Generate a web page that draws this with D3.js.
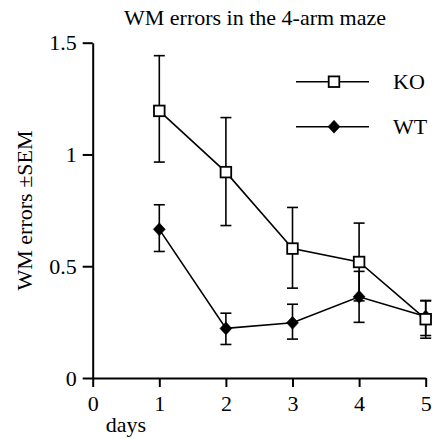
<!DOCTYPE html>
<html>
<head>
<meta charset="utf-8">
<script src="https://cdn.jsdelivr.net/npm/d3@7"></script>
<style>
  html, body { margin: 0; padding: 0; background: #fff; }
  svg { display: block; }
  text { font-family: "Liberation Serif", "Times New Roman", serif; fill: #000; }
</style>
</head>
<body>
<svg id="chart" width="432" height="439"></svg>
<script>
// ---- data ----
const days = [1, 2, 3, 4, 5];
const koMean  = [1.195, 0.921, 0.579, 0.519, 0.263];
const koHigh  = [1.442, 1.165, 0.763, 0.693, 0.347];
const koLow   = [0.966, 0.682, 0.402, 0.345, 0.178];
const wtMean  = [0.665, 0.222, 0.247, 0.363, 0.275];
const wtHigh  = [0.775, 0.290, 0.330, 0.477, 0.345];
const wtLow   = [0.566, 0.150, 0.174, 0.249, 0.190];
const xTicks = [0, 1, 2, 3, 4, 5];
const yTicks = [0, 0.5, 1, 1.5];
const yTickLabels = ["0", "0.5", "1", "1.5"];
const seriesNames = ["KO", "WT"];
const titleText = "WM errors in the 4-arm maze";
const xLabel = "days";
const yLabel = "WM errors \u00B1SEM";

// ---- layout ----
const svg = d3.select("#chart");
const x = d3.scaleLinear().domain([0, 5]).range([92.7, 425.7]);
const y = d3.scaleLinear().domain([0, 1.5]).range([378, 42.7]);
const FS = 22;

// axes
const yAxis = d3.axisLeft(y).tickValues(yTicks)
  .tickFormat((d, i) => yTickLabels[i]).tickSize(10).tickPadding(6).tickSizeOuter(0);
const xAxis = d3.axisBottom(x).tickValues(xTicks)
  .tickFormat(d3.format("d")).tickSize(9).tickPadding(8).tickSizeOuter(0);

const gy = svg.append("g").attr("transform", `translate(${x(0)},0)`).call(yAxis);
const gx = svg.append("g").attr("transform", `translate(0,${y(0)})`).call(xAxis);
[gx, gy].forEach(g => {
  g.selectAll("path.domain").attr("stroke", "#000").attr("stroke-width", 2);
  g.selectAll(".tick line").attr("stroke", "#000").attr("stroke-width", 2);
  g.selectAll(".tick text").attr("font-size", FS)
    .attr("font-family", '"Liberation Serif", "Times New Roman", serif').attr("fill", "#000");
});

// title & labels
svg.append("text").attr("x", 255).attr("y", 25).attr("text-anchor", "middle")
  .attr("font-size", FS).text(titleText);
svg.append("text").attr("x", 126).attr("y", 432).attr("text-anchor", "middle")
  .attr("font-size", FS).text(xLabel);
svg.append("text").attr("transform", "translate(32,210.5) rotate(-90)")
  .attr("text-anchor", "middle").attr("font-size", FS).text(yLabel);

// series
const series = [
  { name: seriesNames[0], mean: koMean, hi: koHigh, lo: koLow, shape: "square" },
  { name: seriesNames[1], mean: wtMean, hi: wtHigh, lo: wtLow, shape: "diamond" }
];
const capW = 5.5;
const plot = svg.append("g");

// error bars
series.forEach(s => {
  const g = plot.append("g").attr("stroke", "#000").attr("stroke-width", 1.6).attr("fill", "none");
  days.forEach((d, i) => {
    g.append("line").attr("x1", x(d)).attr("x2", x(d)).attr("y1", y(s.lo[i])).attr("y2", y(s.hi[i]));
    g.append("line").attr("x1", x(d) - capW).attr("x2", x(d) + capW).attr("y1", y(s.hi[i])).attr("y2", y(s.hi[i]));
    g.append("line").attr("x1", x(d) - capW).attr("x2", x(d) + capW).attr("y1", y(s.lo[i])).attr("y2", y(s.lo[i]));
  });
});

// lines
const line = d3.line().x((d, i) => x(days[i])).y(d => y(d));
series.forEach(s => {
  plot.append("path").datum(s.mean).attr("d", line)
    .attr("fill", "none").attr("stroke", "#000").attr("stroke-width", 1.6);
});

function drawMarker(g, shape, cx, cy) {
  if (shape === "square") {
    g.append("rect").attr("x", cx - 5.3).attr("y", cy - 5.3).attr("width", 10.6).attr("height", 10.6)
      .attr("fill", "#fff").attr("stroke", "#000").attr("stroke-width", 1.8);
  } else {
    g.append("path").attr("d", `M${cx},${cy - 6.5}L${cx + 6},${cy}L${cx},${cy + 6.5}L${cx - 6},${cy}Z`)
      .attr("fill", "#000").attr("stroke", "#000").attr("stroke-width", 0.5);
  }
}

// markers (WT first, KO on top)
[series[1], series[0]].forEach(s => {
  const g = plot.append("g");
  days.forEach((d, i) => drawMarker(g, s.shape, x(d), y(s.mean[i])));
});

// legend
const legY = [81.7, 126.7];
series.forEach((s, i) => {
  const g = svg.append("g");
  g.append("line").attr("x1", 296).attr("x2", 369).attr("y1", legY[i]).attr("y2", legY[i])
    .attr("stroke", "#000").attr("stroke-width", 1.6);
  drawMarker(g, s.shape, 334, legY[i]);
  g.append("text").attr("x", 393).attr("y", legY[i] + 7).attr("font-size", FS).text(s.name);
});
</script>
</body>
</html>
